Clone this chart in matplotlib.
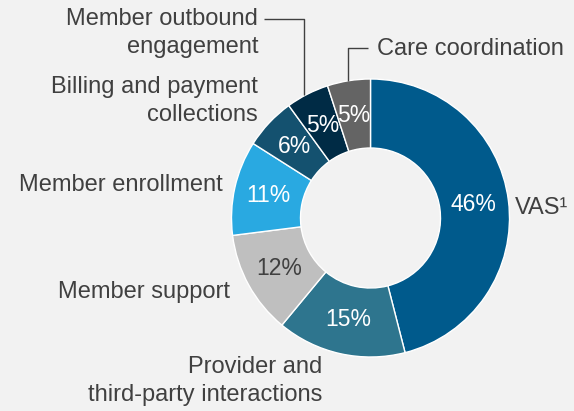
import matplotlib
matplotlib.use("Agg")
import matplotlib.pyplot as plt

plt.rcParams['font.family'] = ['Liberation Sans', 'DejaVu Sans']

# ---- data ----
categories = ["VAS¹", "Provider and\nthird-party interactions", "Member support",
              "Member enrollment", "Billing and payment\ncollections",
              "Member outbound\nengagement", "Care coordination"]
values = [46, 15, 12, 11, 6, 5, 5]
colors = ["#005a8c", "#2e758e", "#bfbfbf", "#29a9e1", "#14516f", "#002b45", "#646464"]
pct_colors = ["white", "white", "#404040", "white", "white", "white", "white"]

# ---- layout (pixel coordinates, y measured from top) ----
W, H = 574, 411
center_px = (370.5, 218)
R = 139
ring_w = 69
text_color = "#404040"
bg = "#f2f2f2"
# (x, first-line baseline y, horizontal alignment)
label_pos = [(515, 214, "left"), (322, 373, "right"), (230, 298, "right"),
             (223, 191, "right"), (258, 93, "right"), (258, 25, "right"),
             (377, 55, "left")]
line_gap = 28
leaders = {5: [(264, 19), (304, 19), (304, 95)],
           6: [(368, 48), (348, 48), (348, 81)]}

fig = plt.figure(figsize=(W / 100, H / 100), dpi=100, facecolor=bg)
ax = fig.add_axes([0, 0, 1, 1])
ax.set_facecolor(bg)
ax.set_xlim(0, W)
ax.set_ylim(0, H)
ax.set_aspect("equal")
ax.axis("off")

def fy(y):
    return H - y

wedges, texts, autotexts = ax.pie(
    values, colors=colors, startangle=90, counterclock=False,
    center=(center_px[0], fy(center_px[1])), radius=R,
    wedgeprops=dict(width=ring_w, edgecolor="white", linewidth=1),
    autopct=lambda p: f"{p:.0f}%", pctdistance=0.75,
    textprops=dict(fontsize=16.5))
for t, c in zip(autotexts, pct_colors):
    t.set_color(c)
ax.set_xlim(0, W)
ax.set_ylim(0, H)

for i, (lab, (x, yb, ha)) in enumerate(zip(categories, label_pos)):
    for j, line in enumerate(lab.split("\n")):
        ax.text(x, fy(yb + j * line_gap), line, ha=ha, va="baseline",
                fontsize=17, color=text_color)

for k, pts in leaders.items():
    xs = [p[0] for p in pts]
    ys = [fy(p[1]) for p in pts]
    ax.plot(xs, ys, color=text_color, linewidth=1, solid_capstyle="butt")

fig.savefig("out.png", dpi=100, facecolor=bg)
